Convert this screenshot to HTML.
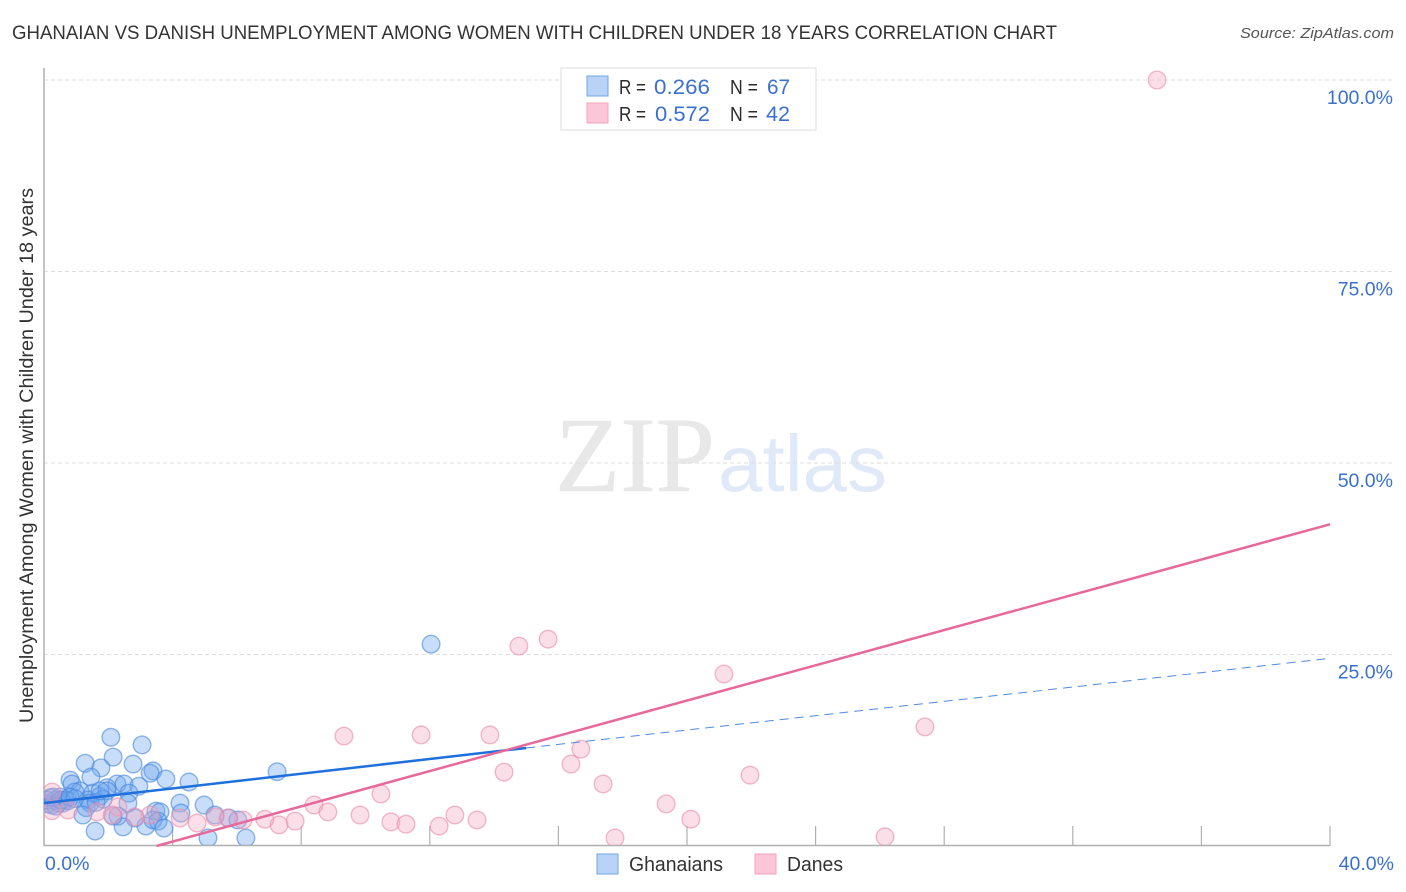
<!DOCTYPE html>
<html lang="en">
<head>
<meta charset="utf-8">
<title>Ghanaian vs Danish Unemployment Correlation Chart</title>
<style>
html,body{margin:0;padding:0;background:#fff;width:1406px;height:892px;overflow:hidden}
svg{display:block}
text{font-family:"Liberation Sans",sans-serif}
.tick{fill:#3a70d2;font-size:19.5px}
.leg{fill:#2b2b2b;font-size:20px}
.val{fill:#3a70d2;font-size:21px}
</style>
</head>
<body>
<svg id="chart" width="1406" height="892" viewBox="0 0 1406 892" xmlns="http://www.w3.org/2000/svg">
  <defs><clipPath id="plot-clip"><rect x="44" y="60" width="1350" height="785"/></clipPath></defs>
  <text x="12" y="39" font-size="19" fill="#333" textLength="1045" lengthAdjust="spacingAndGlyphs">GHANAIAN VS DANISH UNEMPLOYMENT AMONG WOMEN WITH CHILDREN UNDER 18 YEARS CORRELATION CHART</text>
  <text x="1394" y="38" font-size="15" font-style="italic" fill="#555" text-anchor="end" textLength="154" lengthAdjust="spacingAndGlyphs">Source: ZipAtlas.com</text>

  <g>
    <text x="555" y="491" font-size="107" fill="#e8e8e8" stroke="#e8e8e8" stroke-width="0.6" textLength="160" lengthAdjust="spacingAndGlyphs" style="font-family:'Liberation Serif',serif">ZIP</text>
    <text x="718" y="491" font-size="80" fill="#e0e9f8" textLength="169" lengthAdjust="spacingAndGlyphs">atlas</text>
  </g>

  <g id="grid"></g>
  <g id="axes"></g>
  <g id="points" clip-path="url(#plot-clip)"></g>
  <g id="trends"></g>
  <g id="labels"></g>

  <text transform="translate(33,723) rotate(-90)" font-size="19" fill="#333" textLength="535" lengthAdjust="spacingAndGlyphs">Unemployment Among Women with Children Under 18 years</text>

  <g>
    <rect x="561" y="68" width="255" height="62" fill="#fff" stroke="#ddd" stroke-width="1"/>
    <rect x="587" y="76" width="21" height="20" fill="#b9d3f7" stroke="#72a5e6" stroke-width="1"/>
    <rect x="587" y="103" width="21" height="20" fill="#fcc6d8" stroke="#f2a3bd" stroke-width="1"/>
    <text class="leg" x="619" y="94" textLength="27" lengthAdjust="spacingAndGlyphs">R =</text>
    <text class="val" x="654" y="94" textLength="56" lengthAdjust="spacingAndGlyphs">0.266</text>
    <text class="leg" x="730" y="94" textLength="28" lengthAdjust="spacingAndGlyphs">N =</text>
    <text class="val" x="767" y="94" textLength="23" lengthAdjust="spacingAndGlyphs">67</text>
    <text class="leg" x="619" y="121" textLength="27" lengthAdjust="spacingAndGlyphs">R =</text>
    <text class="val" x="655" y="121" textLength="55" lengthAdjust="spacingAndGlyphs">0.572</text>
    <text class="leg" x="730" y="121" textLength="28" lengthAdjust="spacingAndGlyphs">N =</text>
    <text class="val" x="766" y="121" textLength="24" lengthAdjust="spacingAndGlyphs">42</text>
  </g>

  <g>
    <rect x="597" y="854" width="21" height="20" fill="#b9d3f7" stroke="#72a5e6" stroke-width="1"/>
    <text x="629" y="871" font-size="20" fill="#333" textLength="94" lengthAdjust="spacingAndGlyphs">Ghanaians</text>
    <rect x="755" y="854" width="21" height="20" fill="#fcc6d8" stroke="#f2a3bd" stroke-width="1"/>
    <text x="787" y="871" font-size="20" fill="#333" textLength="56" lengthAdjust="spacingAndGlyphs">Danes</text>
  </g>
</svg>
<script>
const ghanaiansX = [2.08,3.05,2.15,1.28,2.77,1.77,3.39,3.30,7.25,3.79,1.46,0.81,0.87,2.27,2.49,1.96,2.95,4.51,2.64,0.50,1.12,0.96,1.52,1.74,1.96,0.65,0.34,0.19,0.12,0.25,0.44,0.59,0.75,1.37,1.43,1.84,2.61,4.23,4.98,1.31,1.21,2.30,2.15,2.83,3.48,3.61,4.26,5.32,5.75,6.03,3.17,3.39,3.55,3.73,2.46,1.59,5.10,6.28,12.04,0.09,0.28,0.37,0.53,0.81,1.62,1.74,0.96];
const ghanaiansY = [14.2,13.2,11.6,10.8,10.7,10.2,9.8,9.5,9.7,8.75,9.0,8.6,8.1,8.1,8.1,7.6,7.8,8.35,6.9,6.4,7.2,7.05,6.9,6.5,7.2,6.0,6.0,6.3,5.5,5.35,5.6,5.6,5.9,6.0,5.6,6.1,5.6,5.6,5.35,5.0,4.05,3.9,3.9,3.65,4.55,4.45,4.3,4.05,3.65,3.4,2.6,3.4,3.25,2.35,2.5,1.95,1.05,1.05,26.35,6.0,6.4,5.2,6.0,6.4,5.7,7.2,6.2];
const danesX = [34.62,15.68,14.77,21.15,27.40,9.33,11.73,13.87,16.70,16.39,14.31,21.96,17.39,10.48,8.40,19.35,8.83,9.83,12.78,13.47,10.79,11.26,12.29,20.12,17.76,26.16,7.81,7.31,6.87,6.19,5.72,5.32,4.76,4.23,3.30,2.83,2.30,1.65,0.75,0.25,0.25,2.12];
const danesY = [100,27.0,26.1,22.45,15.55,14.35,14.5,14.5,12.65,10.7,9.65,9.25,8.1,6.8,5.35,5.5,4.45,4.05,4.05,3.4,3.15,2.85,2.6,3.5,1.05,1.2,3.25,2.75,3.5,3.4,3.65,3.8,3.0,3.65,4.05,3.8,5.1,4.45,4.7,4.6,7.05,4.05];
const ghanaiansFitX = [0,15,40];
const ghanaiansFitY = [5.6,12.8,24.5];
const danesFitX = [3.5,40];
const danesFitY = [0,42];
const yTickValues = [25,50,75,100];
const xTickValues = [4,8,12,16,20,24,28,32,36,40];
const yTickLabels = ['25.0%','50.0%','75.0%','100.0%'];
const xEndLabels = ['0.0%','40.0%'];

const NS = 'http://www.w3.org/2000/svg';
const xScale = v => 44 + v * 32.15;
const yScale = v => 846 - v * 7.66;
function mk(parent, tag, attrs, text) {
  const el = document.createElementNS(NS, tag);
  for (const k in attrs) el.setAttribute(k, attrs[k]);
  if (text !== undefined) el.textContent = text;
  document.getElementById(parent).appendChild(el);
  return el;
}

yTickValues.forEach(function (v) {
  const l = mk('grid', 'line', {x1: 44, x2: 1393, y1: yScale(v), y2: yScale(v), stroke: '#dedede', 'stroke-width': 1, 'stroke-dasharray': '4 3'});
  
  
});

const yAxis = mk('axes', 'line', {x1: 44, x2: 44, y1: 68, y2: 846, stroke: '#b0b0b0', 'stroke-width': 1.5});


const xAxis = mk('axes', 'line', {x1: 44, x2: 1330, y1: 845.5, y2: 845.5, stroke: '#b0b0b0', 'stroke-width': 1.5});


xTickValues.forEach(function (v) {
  const t = mk('axes', 'line', {x1: xScale(v), x2: xScale(v), y1: 826, y2: 846, stroke: '#b0b0b0', 'stroke-width': 1.2});
  
  
});

ghanaiansX.forEach(function (v, i) {
  const c = mk('points', 'circle', {cx: xScale(v), cy: yScale(ghanaiansY[i]), r: 8.8, fill: 'rgba(110,165,240,0.38)', stroke: 'rgba(70,135,220,0.6)', 'stroke-width': 1.4});
  
  
});
danesX.forEach(function (v, i) {
  const c = mk('points', 'circle', {cx: xScale(v), cy: yScale(danesY[i]), r: 8.8, fill: 'rgba(245,170,195,0.38)', stroke: 'rgba(235,140,170,0.6)', 'stroke-width': 1.4});
  
  
});

const blueSolid = mk('trends', 'line', {x1: xScale(ghanaiansFitX[0]), y1: yScale(ghanaiansFitY[0]), x2: xScale(ghanaiansFitX[1]), y2: yScale(ghanaiansFitY[1]), stroke: '#1f6fdc', 'stroke-width': 2.5});


const blueDash = mk('trends', 'line', {x1: xScale(ghanaiansFitX[1]), y1: yScale(ghanaiansFitY[1]), x2: xScale(ghanaiansFitX[2]), y2: yScale(ghanaiansFitY[2]), stroke: '#4f8ae0', 'stroke-width': 1, 'stroke-dasharray': '9 6'});


const pinkLine = mk('trends', 'line', {x1: xScale(danesFitX[0]), y1: yScale(danesFitY[0]), x2: xScale(danesFitX[1]), y2: yScale(danesFitY[1]), stroke: '#e8689a', 'stroke-width': 2.5});



yTickValues.forEach(function (v, i) {
  const t = mk('labels', 'text', {x: 1393, y: yScale(v) + 24, class: 'tick', 'text-anchor': 'end'}, yTickLabels[i]);
  
  
});
const x0Label = mk('labels', 'text', {x: 45, y: 870, class: 'tick'}, xEndLabels[0]);


const x1Label = mk('labels', 'text', {x: 1394, y: 870, class: 'tick', 'text-anchor': 'end'}, xEndLabels[1]);


</script>
</body>
</html>
